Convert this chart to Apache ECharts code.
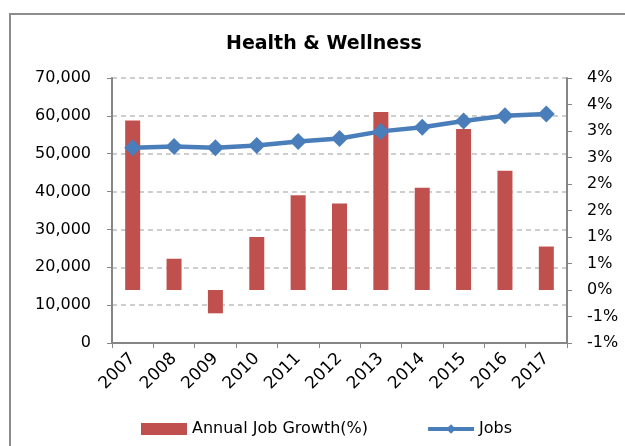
<!DOCTYPE html>
<html>
<head>
<meta charset="utf-8">
<script src="https://cdn.jsdelivr.net/npm/echarts@6/dist/echarts.min.js"></script>
<style>
  html, body { margin: 0; padding: 0; background: #fff; }
  #chart { width: 625px; height: 446px; }
</style>
</head>
<body>
<div id="chart"></div>
<script>
// data
const years = ["2007", "2008", "2009", "2010", "2011", "2012", "2013", "2014", "2015", "2016", "2017"];
const growthPct = [3.2, 0.59, -0.44, 1.0, 1.79, 1.63, 3.36, 1.93, 3.04, 2.25, 0.82];
const jobs = [51600, 51900, 51600, 52200, 53200, 54000, 55900, 57000, 58650, 60050, 60500];

const axisFont = "DejaVu Sans";
const gray = "#868686";

const chart = echarts.init(document.getElementById("chart"));

const option = {
  animation: false,
  backgroundColor: "#fff",
  title: {
    text: "Health & Wellness",
    left: 221,
    top: 30,
    textStyle: { fontFamily: axisFont, fontWeight: "bold", fontSize: 19, color: "#000" },
  },
  graphic: [
    {
      type: "rect",
      shape: { x: 10, y: 14, width: 700, height: 500 },
      style: { fill: "none", stroke: "#8c8c8c", lineWidth: 2 },
      silent: true,
    },
  ],
  legend: {
    left: 136,
    top: 416,
    itemGap: 58,
    itemWidth: 46,
    itemHeight: 12,
    textStyle: { fontFamily: axisFont, fontSize: 16, color: "#000" },
    data: [
      { name: "Annual Job Growth(%)", icon: "rect" },
      { name: "Jobs", lineStyle: { width: 4 } },
    ],
  },
  grid: {
    left: 112,
    right: 58,
    top: 78,
    bottom: 103,
  },
  xAxis: {
    type: "category",
    data: years,
    axisLine: { lineStyle: { color: gray, width: 2 } },
    axisTick: { show: true, length: 5, lineStyle: { color: gray } },
    axisLabel: {
      rotate: 45,
      margin: 13,
      fontFamily: axisFont,
      fontSize: 17,
      color: "#000",
    },
  },
  yAxis: [
    {
      type: "value",
      min: 0,
      max: 70000,
      interval: 10000,
      position: "left",
      axisLine: { show: true, lineStyle: { color: gray, width: 2 } },
      axisTick: { show: true, length: 5, lineStyle: { color: gray } },
      axisLabel: {
        margin: 21,
        fontFamily: axisFont,
        fontSize: 16,
        color: "#000",
        formatter: (v) => v.toLocaleString("en-US"),
      },
      splitLine: {
        show: true,
        lineStyle: { color: "#bfbfbf", type: [5, 4], width: 1.5 },
      },
    },
    {
      type: "value",
      min: -1,
      max: 4,
      interval: 0.5,
      position: "right",
      axisLine: { show: true, lineStyle: { color: gray, width: 2 } },
      axisTick: { show: true, length: 5, lineStyle: { color: gray } },
      axisLabel: {
        margin: 20,
        fontFamily: axisFont,
        fontSize: 16,
        color: "#000",
        formatter: (v) => {
          const r = Math.sign(v) * Math.round(Math.abs(v));
          return (r === 0 ? 0 : r) + "%";
        },
      },
      splitLine: { show: false },
    },
  ],
  series: [
    {
      name: "Annual Job Growth(%)",
      type: "bar",
      yAxisIndex: 1,
      data: growthPct,
      barWidth: 15,
      itemStyle: { color: "#C0504D" },
    },
    {
      name: "Jobs",
      type: "line",
      yAxisIndex: 0,
      data: jobs,
      symbol: "diamond",
      symbolSize: 17,
      lineStyle: { color: "#4A7EBB", width: 4.5 },
      itemStyle: { color: "#4A7EBB" },
      z: 5,
    },
  ],
};

chart.setOption(option);
</script>
</body>
</html>
